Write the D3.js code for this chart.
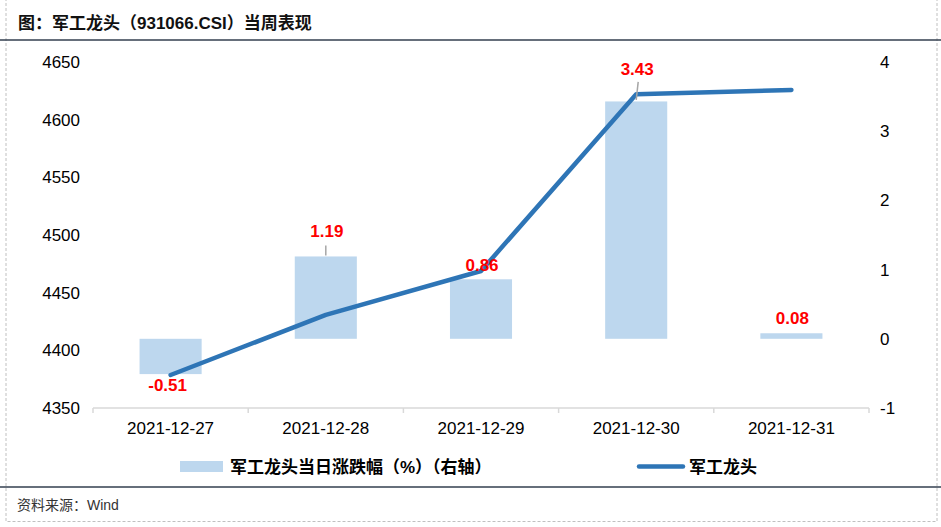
<!DOCTYPE html>
<html>
<head>
<meta charset="utf-8">
<script src="https://cdn.jsdelivr.net/npm/d3@7"></script>
<style>
  html, body { margin: 0; padding: 0; background: #fff; }
  svg { display: block; }
  text { font-family: "Liberation Sans", Arial, "Noto Sans CJK SC", sans-serif; }
</style>
</head>
<body>
<svg id="chart" width="941" height="527"></svg>
<script>
// ---- data ----
const categories = ["2021-12-27", "2021-12-28", "2021-12-29", "2021-12-30", "2021-12-31"];
const pctChange = [-0.51, 1.19, 0.86, 3.43, 0.08];          // 右轴
const indexClose = [4378.6, 4430.7, 4468.8, 4622.1, 4625.8]; // 左轴
const leftTicks = [4350, 4400, 4450, 4500, 4550, 4600, 4650];
const rightTicks = [-1, 0, 1, 2, 3, 4];
const titleText = "图：军工龙头（931066.CSI）当周表现";
const sourceText = "资料来源：Wind";
const legendBar = "军工龙头当日涨跌幅（%）（右轴）";
const legendLine = "军工龙头";

// ---- layout ----
const W = 941, H = 527;
const plot = { left: 93, right: 869, top: 62, bottom: 408 };
const barColor = "#bdd7ee", lineColor = "#2e75b6", red = "#ff0000";
const font17 = "17px";

const svg = d3.select("#chart");

// outer dashed border
svg.append("rect").attr("x", 6).attr("y", -1).attr("width", 931).attr("height", 522.5)
  .attr("fill", "none").attr("stroke", "#c0c0c0").attr("stroke-dasharray", "3,2").attr("stroke-width", 1);

// header / footer rules
svg.append("line").attr("x1", 0).attr("x2", W).attr("y1", 40).attr("y2", 40)
  .attr("stroke", "#333f4f").attr("stroke-width", 1.5);
svg.append("line").attr("x1", 0).attr("x2", W).attr("y1", 487).attr("y2", 487)
  .attr("stroke", "#333f4f").attr("stroke-width", 1.5);

svg.append("text").attr("x", 18).attr("y", 29).text(titleText)
  .attr("font-size", font17).attr("font-weight", "bold").attr("fill", "#111");
svg.append("text").attr("x", 17).attr("y", 510).text(sourceText)
  .attr("font-size", "14px").attr("fill", "#333");

// ---- scales ----
const x = d3.scaleBand().domain(categories).range([plot.left, plot.right]).paddingInner(0).paddingOuter(0);
const yL = d3.scaleLinear().domain([4350, 4650]).range([plot.bottom, plot.top]);
const yR = d3.scaleLinear().domain([-1, 4]).range([plot.bottom, plot.top]);
const fmtInt = d => String(d);

// ---- axes ----
const axisL = d3.axisLeft(yL).tickValues(leftTicks).tickSize(0).tickPadding(0).tickFormat(fmtInt);
const gL = svg.append("g").attr("transform", `translate(80,0)`).call(axisL);
gL.select(".domain").remove();
gL.selectAll("text").attr("font-size", font17).attr("fill", "#000").attr("font-family", "Liberation Sans, Arial, sans-serif");

const axisR = d3.axisRight(yR).tickValues(rightTicks).tickSize(0).tickPadding(0).tickFormat(fmtInt);
const gR = svg.append("g").attr("transform", `translate(880,0)`).call(axisR);
gR.select(".domain").remove();
gR.selectAll("text").attr("font-size", font17).attr("fill", "#000").attr("font-family", "Liberation Sans, Arial, sans-serif");

// x axis: line + boundary ticks
const gX = svg.append("g");
gX.append("line").attr("x1", plot.left).attr("x2", plot.right).attr("y1", plot.bottom).attr("y2", plot.bottom)
  .attr("stroke", "#d9d9d9").attr("stroke-width", 1.5);
const bounds = categories.map(c => x(c)).concat([x(categories[categories.length - 1]) + x.bandwidth()]);
gX.selectAll("line.tk").data(bounds).join("line").attr("class", "tk")
  .attr("x1", d => d).attr("x2", d => d).attr("y1", plot.bottom).attr("y2", plot.bottom + 5)
  .attr("stroke", "#d9d9d9").attr("stroke-width", 1.5);
gX.selectAll("text").data(categories).join("text")
  .attr("x", d => x(d) + x.bandwidth() / 2).attr("y", 428).attr("dy", "0.35em")
  .attr("text-anchor", "middle").attr("font-size", font17).attr("fill", "#000").text(d => d);

// ---- bars ----
const barW = x.bandwidth() * 0.4;
svg.append("g").selectAll("rect").data(pctChange).join("rect")
  .attr("x", (d, i) => x(categories[i]) + (x.bandwidth() - barW) / 2)
  .attr("width", barW)
  .attr("y", d => Math.min(yR(d), yR(0)))
  .attr("height", d => Math.abs(yR(d) - yR(0)))
  .attr("fill", barColor);

// ---- line ----
const line = d3.line().x((d, i) => x(categories[i]) + x.bandwidth() / 2).y(d => yL(d));
svg.append("path").datum(indexClose).attr("d", line)
  .attr("fill", "none").attr("stroke", lineColor).attr("stroke-width", 4.5)
  .attr("stroke-linecap", "round").attr("stroke-linejoin", "round");

// ---- data labels (manual nudges like the source) ----
const labelGap = [11, 25, 14, 32.5, 15]; // distance from bar end to label centre
const leaders = { 1: [[0, -11], [0, -1]], 3: [[2, -19.5], [0, -1.5]] };
const gLab = svg.append("g");
pctChange.forEach((v, i) => {
  const cx = x(categories[i]) + x.bandwidth() / 2;
  const end = yR(v);
  const cy = v >= 0 ? end - labelGap[i] : end + labelGap[i];
  if (leaders[i]) {
    const [a, b] = leaders[i];
    gLab.append("line").attr("x1", cx + a[0]).attr("y1", end + a[1]).attr("x2", cx + b[0]).attr("y2", end + b[1])
      .attr("stroke", "#a6a6a6").attr("stroke-width", 1.5);
  }
  gLab.append("text").attr("x", i === 0 ? cx - 3 : cx + 1).attr("y", cy).attr("dy", "0.35em")
    .attr("text-anchor", "middle").attr("font-size", font17).attr("font-weight", "bold")
    .attr("fill", red).text(v.toFixed(2));
});

// ---- legend ----
const lg = svg.append("g");
lg.append("rect").attr("x", 180).attr("y", 461).attr("width", 43).attr("height", 11).attr("fill", barColor);
lg.append("text").attr("x", 230).attr("y", 467).attr("dy", "0.35em").attr("font-size", font17)
  .attr("font-weight", "bold").attr("fill", "#000").text(legendBar);
lg.append("line").attr("x1", 639).attr("x2", 683).attr("y1", 466.5).attr("y2", 466.5)
  .attr("stroke", lineColor).attr("stroke-width", 4.5).attr("stroke-linecap", "round");
lg.append("text").attr("x", 689).attr("y", 467).attr("dy", "0.35em").attr("font-size", font17)
  .attr("font-weight", "bold").attr("fill", "#000").text(legendLine);
</script>
</body>
</html>
